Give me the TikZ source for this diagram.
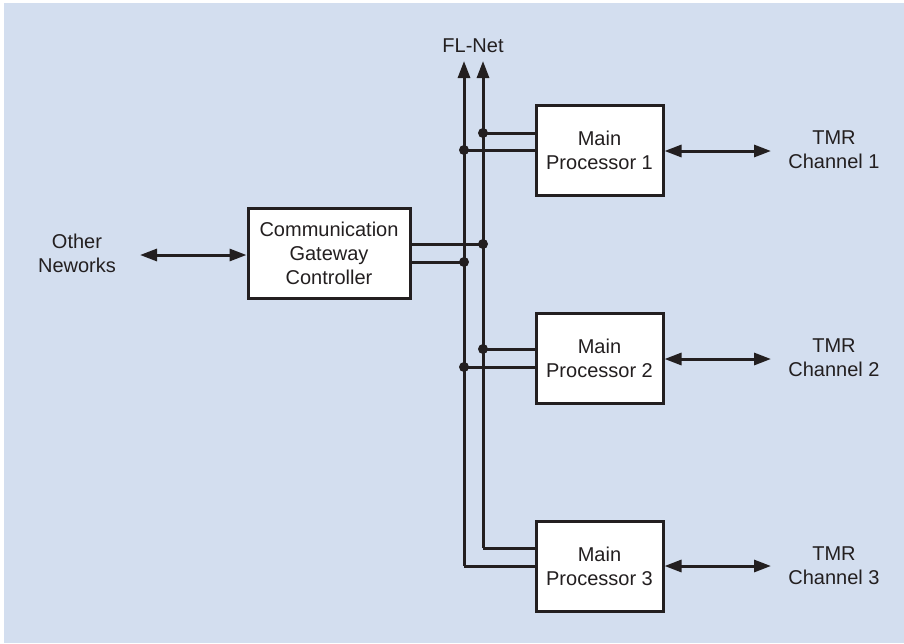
\documentclass[tikz,border=0pt]{standalone}
\usepackage{fontspec}
\setmainfont{Liberation Sans}
\usetikzlibrary{arrows.meta}
\definecolor{panel}{HTML}{D3DEEF}
\definecolor{ink}{HTML}{231F20}
\begin{document}
\begin{tikzpicture}[x=1pt,y=-1pt,
  line width=3pt, draw=ink, text=ink,
  font=\fontsize{20}{24}\selectfont,
  unit/.style={draw=ink, fill=white, line width=3pt, align=center,
    inner sep=0pt, minimum height=90pt},
  proc/.style={unit, minimum width=127pt},
  label/.style={align=center, inner sep=0pt},
  tip/.style={-{Triangle[length=17pt,width=12pt]}},
  both/.style={{Triangle[length=17pt,width=12pt]}-{Triangle[length=17pt,width=12pt]}},
  junction/.style={circle, fill=ink, inner sep=0pt, minimum size=10pt}]
\useasboundingbox (0,0) rectangle (904,643);
\fill[panel] (4,3) rectangle (904,643);

% processing units
\node[unit, minimum width=162pt] (cgc) at (329,253) {Communication\\Gateway\\Controller};
\node[proc] (mp1) at (599.5,150) {Main\\Processor 1};
\node[proc] (mp2) at (599.5,358) {Main\\Processor 2};
\node[proc] (mp3) at (599.5,566) {Main\\Processor 3};

% external labels
\node[label] (flnet) at (473,46) {FL-Net};
\node[label] (other) at (77,253) {Other\\Neworks};
\node[label] (tmr1) at (834,150) {TMR\\Channel 1};
\node[label] (tmr2) at (834,358) {TMR\\Channel 2};
\node[label] (tmr3) at (834,566) {TMR\\Channel 3};

% FL-Net bus: two lines rising to the arrow tips
\coordinate (topL) at (464,61);
\coordinate (topR) at (483,61);
\coordinate (endL) at (464,566);
\coordinate (endR) at (483,548);
\draw[tip] (endL) -- (topL);
\draw[tip] (endR) -- (topR);

% taps onto the bus
\coordinate (a1) at (483,133);
\coordinate (b1) at (464,150);
\coordinate (ag) at (483,244);
\coordinate (bg) at (464,262);
\coordinate (a2) at (483,349);
\coordinate (b2) at (464,367);
\draw (a1) -- (mp1.west |- a1);
\draw (b1) -- (mp1.west |- b1);
\draw (cgc.east |- ag) -- (ag);
\draw (cgc.east |- bg) -- (bg);
\draw (a2) -- (mp2.west |- a2);
\draw (b2) -- (mp2.west |- b2);
\draw (endR) -- (mp3.west |- endR);
\draw (endL) -- (mp3.west |- endL);
\foreach \p in {a1,b1,ag,bg,a2,b2} \node[junction] at (\p) {};

% links to the outside
\coordinate (o1) at (140,255);
\draw[both] (o1) -- (cgc.west |- o1);
\coordinate (t1) at (771,151);
\coordinate (t2) at (771,359);
\coordinate (t3) at (771,566);
\draw[both] (mp1.east |- t1) -- (t1);
\draw[both] (mp2.east |- t2) -- (t2);
\draw[both] (mp3.east |- t3) -- (t3);
\end{tikzpicture}
\end{document}
